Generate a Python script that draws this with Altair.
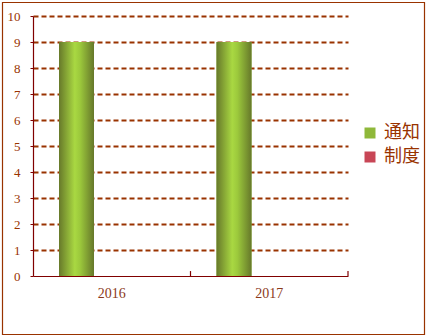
import altair as alt
import pandas as pd

# Chart values
years = ["2016", "2017"]
series = ["通知", "制度"]
tongzhi = [9, 9]
zhidu = [0, 0]
y_ticks = [0, 1, 2, 3, 4, 5, 6, 7, 8, 9, 10]

rows = []
for i, yr in enumerate(years):
    rows.append({"year": yr, "series": series[0], "value": tongzhi[i]})
    rows.append({"year": yr, "series": series[1], "value": zhidu[i]})
df = pd.DataFrame(rows)
sep_df = pd.DataFrame({"year": years, "y0": [0, 0], "y1": [0.19, 0.19]})

BROWN = "#993300"
MAROON = "#800000"

x_axis = alt.Axis(ticks=False, grid=False, domainColor=MAROON, domainWidth=1.2,
                  labelAngle=0, labelFont="Liberation Serif", labelFontSize=14,
                  labelColor="#8b3a1a", labelPadding=10)
y_axis = alt.Axis(values=y_ticks, grid=True, gridColor=BROWN, gridDash=[5, 3],
                  gridWidth=2, labelOverlap=False,
                  gridOpacity={"condition": {"test": "datum.value === 0", "value": 0}, "value": 1},
                  domainColor=MAROON, domainWidth=1.2, tickColor=MAROON, tickSize=3,
                  labelPadding=10, labelFont="Liberation Serif", labelFontSize=13,
                  labelColor=BROWN)
x_scale = alt.Scale(paddingInner=0, paddingOuter=0)
y_scale = alt.Scale(domain=[0, 10], nice=False)

x_enc = alt.X("year:N", title=None, sort=years, scale=x_scale, axis=x_axis)
y_enc = alt.Y("value:Q", title=None, scale=y_scale, axis=y_axis)

# Series slots inside each year band (bar group sits left of the band centre)
xo = alt.XOffset(
    "series:N", sort=series,
    scale=alt.Scale(domain=series, range=[26, 96], paddingInner=0, paddingOuter=0),
)

# Cylinder-style shading for the bars
green_grad = {
    "gradient": "linear", "x1": 0, "x2": 1, "y1": 0, "y2": 0,
    "stops": [
        {"offset": 0, "color": "#67792a"},
        {"offset": 0.45, "color": "#a9d842"},
        {"offset": 0.6, "color": "#9cc93c"},
        {"offset": 1, "color": "#66782a"},
    ],
}
red_grad = {
    "gradient": "linear", "x1": 0, "x2": 1, "y1": 0, "y2": 0,
    "stops": [
        {"offset": 0, "color": "#7a2030"},
        {"offset": 0.45, "color": "#e25565"},
        {"offset": 1, "color": "#7a2030"},
    ],
}

base = alt.Chart(df)

bars = base.mark_bar().encode(
    x=x_enc, y=y_enc, xOffset=xo,
    color=alt.Color(
        "series:N", sort=series,
        scale=alt.Scale(domain=series, range=["#8fb83a", "#c84656"]),
        legend=alt.Legend(orient="none", legendX=328, legendY=108, title=None,
                          symbolType="square", symbolSize=121, symbolStrokeWidth=0,
                          labelFont="Noto Sans CJK SC", labelFontSize=18,
                          labelColor=BROWN, rowPadding=6, labelOffset=5),
    ),
)

green_bars = base.transform_filter(alt.datum.series == series[0]).mark_bar(
    color=green_grad
).encode(x=x_enc, y=y_enc, xOffset=xo)

red_bars = base.transform_filter(alt.datum.series == series[1]).mark_bar(
    color=red_grad
).encode(x=x_enc, y=y_enc, xOffset=xo)

# Short upward separators at the end of each year band
separators = alt.Chart(sep_df).mark_rule(color=MAROON, strokeWidth=1.2).encode(
    x=alt.X("year:N", title=None, sort=years, scale=x_scale, axis=x_axis, bandPosition=1),
    y=alt.Y("y0:Q", title=None, scale=y_scale, axis=y_axis),
    y2=alt.Y2("y1"),
)

frame = alt.Chart(pd.DataFrame({"k": [0]})).mark_rect(
    fill=None, fillOpacity=0, stroke=BROWN, strokeWidth=1.2
).encode(
    x=alt.value(-30.5), x2=alt.value(391.5), y=alt.value(-13.5), y2=alt.value(318.5)
)

chart = alt.layer(frame, bars, green_bars, red_bars, separators).properties(
    width=315, height=260,
    padding={"left": 33, "top": 16, "right": 78, "bottom": 60},
    autosize="none",
    background="white",
).configure_view(stroke=None)

chart.save("out.html", embed_options={"renderer": "svg", "actions": False})
